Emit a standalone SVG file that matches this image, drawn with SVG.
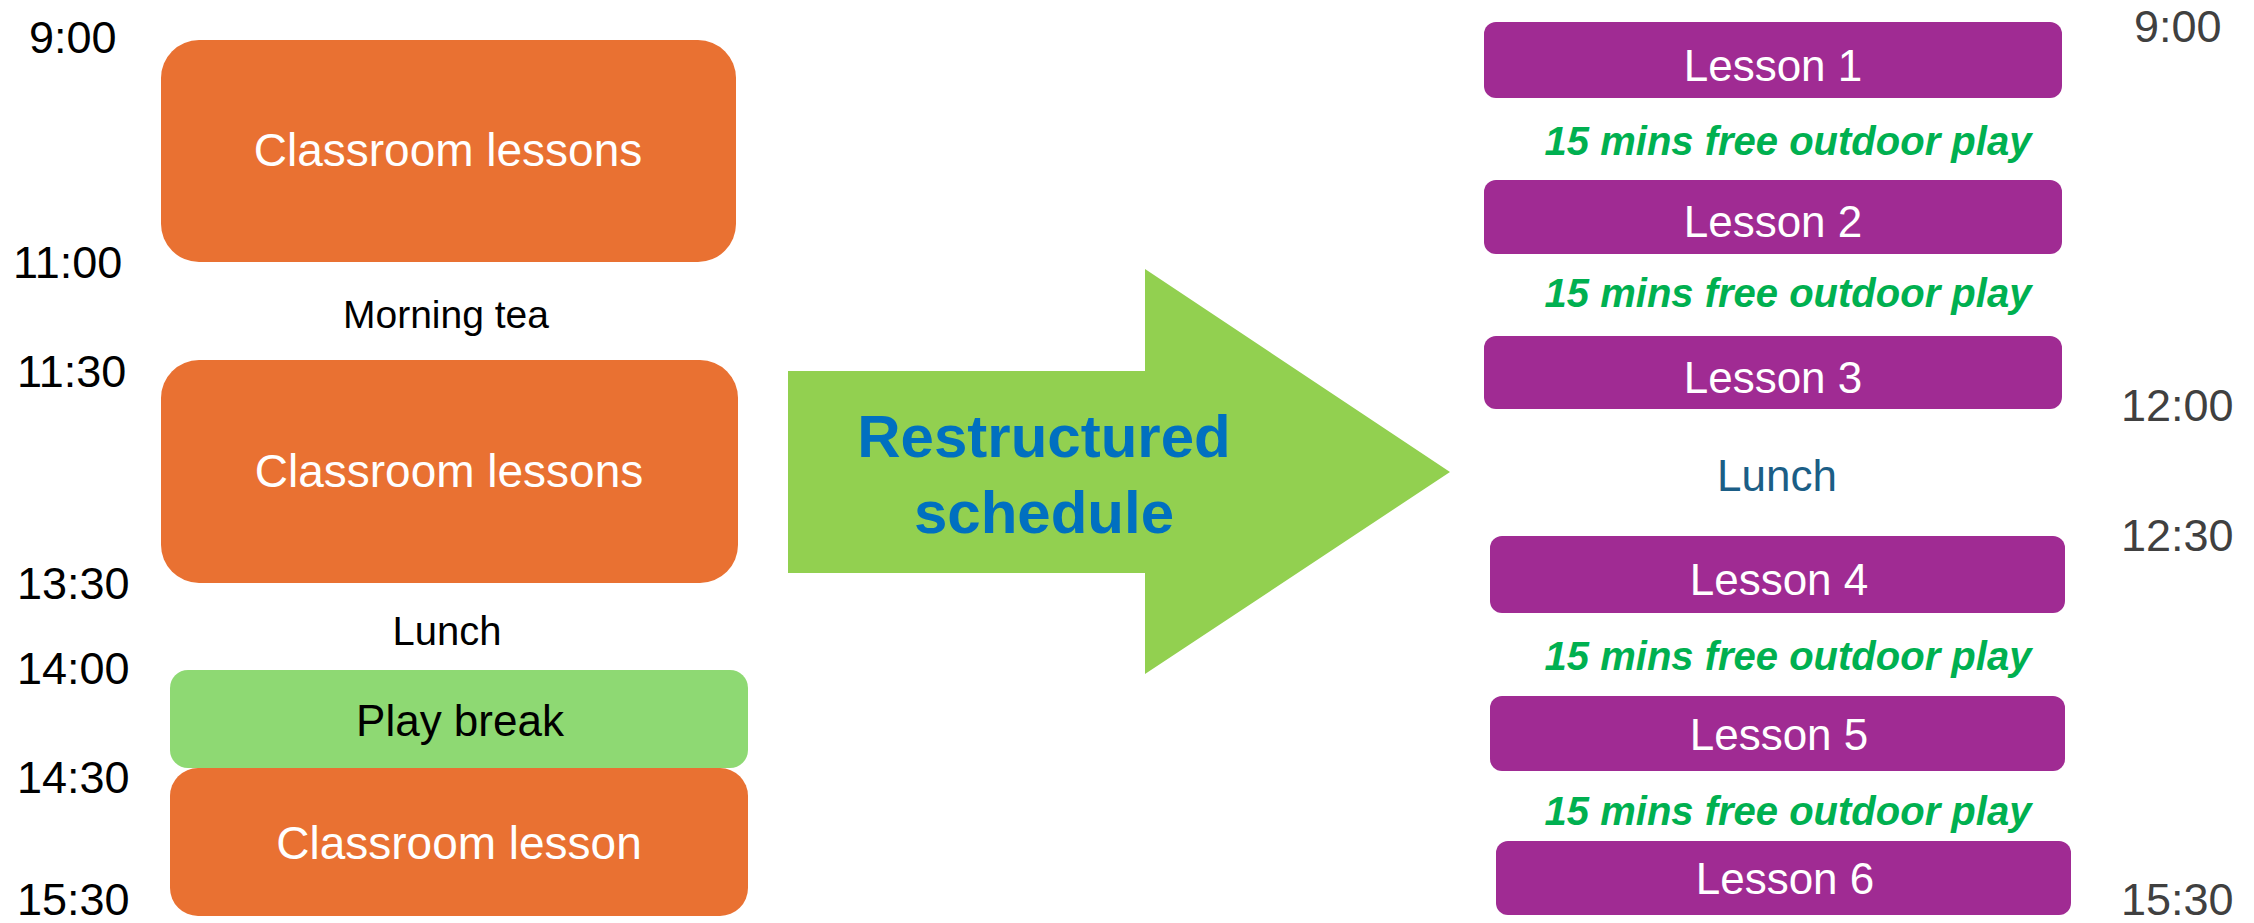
<svg xmlns="http://www.w3.org/2000/svg" width="2254" height="923" viewBox="0 0 2254 923">
<style>
text{font-family:"Liberation Sans",Arial,sans-serif}
.time{font-size:45px;fill:#000}
.rtime{font-size:45px;fill:#404040}
.orange{fill:#E97132}
.wt{fill:#fff;text-anchor:middle}
.lesson{fill:#A02B93}
.lt{font-size:44px;fill:#fff;text-anchor:middle}
.play{font-size:40px;font-weight:bold;font-style:italic;fill:#00B050;text-anchor:middle}
</style>
<rect width="2254" height="923" fill="#fff"/>
<g id="left-times">
<text class="time" x="29" y="53">9:00</text>
<text class="time" x="13" y="278">11:00</text>
<text class="time" x="17" y="387">11:30</text>
<text class="time" x="17" y="599">13:30</text>
<text class="time" x="17" y="684">14:00</text>
<text class="time" x="17" y="793">14:30</text>
<text class="time" x="17" y="915">15:30</text>
</g>
<g id="classroom1"><rect class="orange" x="161" y="40" width="575" height="222" rx="38"/><text class="wt" x="448" y="166" font-size="46">Classroom lessons</text></g>
<g id="morning-tea"><text x="446" y="328" font-size="39" text-anchor="middle" fill="#000">Morning tea</text></g>
<g id="classroom2"><rect class="orange" x="161" y="360" width="577" height="223" rx="38"/><text class="wt" x="449" y="487" font-size="46">Classroom lessons</text></g>
<g id="lunch-left"><text x="447" y="645" font-size="40" text-anchor="middle" fill="#000">Lunch</text></g>
<g id="play-break"><rect x="170" y="670" width="578" height="98" rx="18" fill="#8ED973"/><text x="460" y="736" font-size="44" text-anchor="middle" fill="#000">Play break</text></g>
<g id="classroom3"><rect class="orange" x="170" y="768" width="578" height="148" rx="28"/><text class="wt" x="459" y="859" font-size="46">Classroom lesson</text></g>
<g id="connectors">
<g id="arrow"><polygon points="788,371 1145,371 1145,269 1450,472 1145,674 1145,573 788,573" fill="#92D050"/>
<text x="1044" y="457" font-size="60" font-weight="bold" text-anchor="middle" fill="#0070C0">Restructured</text>
<text x="1044" y="533" font-size="60" font-weight="bold" text-anchor="middle" fill="#0070C0">schedule</text></g>
</g>
<g id="lesson1"><rect class="lesson" x="1484" y="22" width="578" height="76" rx="12"/><text class="lt" x="1773" y="81">Lesson 1</text></g>
<g id="play1"><text class="play" x="1788" y="155">15 mins free outdoor play</text></g>
<g id="lesson2"><rect class="lesson" x="1484" y="180" width="578" height="74" rx="12"/><text class="lt" x="1773" y="237">Lesson 2</text></g>
<g id="play2"><text class="play" x="1788" y="307">15 mins free outdoor play</text></g>
<g id="lesson3"><rect class="lesson" x="1484" y="336" width="578" height="73" rx="12"/><text class="lt" x="1773" y="393">Lesson 3</text></g>
<g id="lunch-right"><text x="1777" y="491" font-size="44" text-anchor="middle" fill="#1B5E86">Lunch</text></g>
<g id="lesson4"><rect class="lesson" x="1490" y="536" width="575" height="77" rx="12"/><text class="lt" x="1779" y="595">Lesson 4</text></g>
<g id="play3"><text class="play" x="1788" y="670">15 mins free outdoor play</text></g>
<g id="lesson5"><rect class="lesson" x="1490" y="696" width="575" height="75" rx="12"/><text class="lt" x="1779" y="750">Lesson 5</text></g>
<g id="play4"><text class="play" x="1788" y="825">15 mins free outdoor play</text></g>
<g id="lesson6"><rect class="lesson" x="1496" y="841" width="575" height="74" rx="12"/><text class="lt" x="1785" y="894">Lesson 6</text></g>
<g id="right-times">
<text class="rtime" x="2134" y="42">9:00</text>
<text class="rtime" x="2121" y="421">12:00</text>
<text class="rtime" x="2121" y="551">12:30</text>
<text class="rtime" x="2121" y="915">15:30</text>
</g>
</svg>
